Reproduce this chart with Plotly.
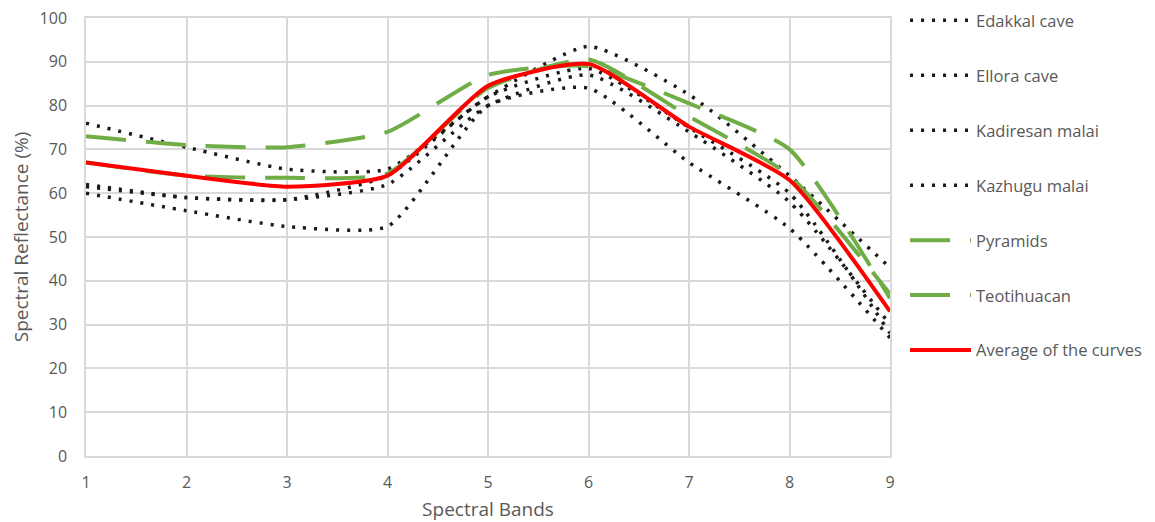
import plotly.graph_objects as go

bands = [1, 2, 3, 4, 5, 6, 7, 8, 9]
x_ticks = [1, 2, 3, 4, 5, 6, 7, 8, 9]
y_ticks = [0, 10, 20, 30, 40, 50, 60, 70, 80, 90, 100]

edakkal = [76, 70.5, 65.5, 65.5, 82, 93.5, 82.5, 64, 43]
ellora = [62, 59, 58.5, 64, 82, 88.5, 75, 60, 28]
kadiresan = [61.5, 59, 58.5, 62, 80, 87, 74, 58, 30]
kazhugu = [60, 56, 52.4, 52.4, 80, 84, 67, 52, 27]
pyramids = [73, 71, 70.5, 74, 87, 89, 80.5, 70, 36]
teotihuacan = [67, 64, 63.5, 64.5, 84, 90.5, 77.5, 64, 37]
average = [67, 64, 61.5, 64, 84.5, 89.5, 75.2, 63, 33]

names = ["Edakkal cave", "Ellora cave", "Kadiresan malai", "Kazhugu malai",
         "Pyramids", "Teotihuacan", "Average of the curves"]
series = [edakkal, ellora, kadiresan, kazhugu, pyramids, teotihuacan, average]

FONT = "Open Sans"
GRAY = "#595959"

styles = [
    dict(color="#1a1a1a", width=3.5, dash="3px,8px"),
    dict(color="#1a1a1a", width=3.5, dash="3px,8px"),
    dict(color="#1a1a1a", width=3.5, dash="3px,8px"),
    dict(color="#1a1a1a", width=3.5, dash="3px,8px"),
    dict(color="#70ad47", width=4, dash="40px,20px"),
    dict(color="#70ad47", width=4, dash="40px,20px"),
    dict(color="#ff0000", width=4, dash="solid"),
]

fig = go.Figure()
for i, (n, s, st) in enumerate(zip(names, series, styles)):
    fig.add_trace(go.Scatter(
        x=bands, y=s, name=n, mode="lines",
        line=dict(shape="spline", smoothing=0.55, **st),
        legendgroup=f"g{i}",
    ))

# page body has an 8px margin; figure sized to fill the rest of the window
fig.update_layout(
    width=1147, height=514,
    margin=dict(l=78, r=265, t=10, b=66, autoexpand=False),
    paper_bgcolor="white", plot_bgcolor="white",
    font=dict(family=FONT, size=16, color=GRAY),
    legend=dict(
        x=1.0187, y=1.034, xanchor="left", yanchor="top",
        traceorder="grouped", tracegroupgap=30.5, itemwidth=61,
        maxheight=700,
        font=dict(family=FONT, size=16.5, color=GRAY),
        bgcolor="rgba(0,0,0,0)",
    ),
    xaxis=dict(
        range=[1, 9], tickvals=x_ticks, ticktext=[str(v) for v in x_ticks],
        showgrid=True, gridcolor="#d9d9d9", gridwidth=1.5,
        showline=True, linecolor="#d9d9d9", linewidth=1.5, mirror=True,
        zeroline=False, ticks="", ticklabelstandoff=11, automargin=False,
        ticklabeloverflow="allow",
        title=dict(text="Spectral Bands", standoff=15,
                   font=dict(family=FONT, size=19, color=GRAY)),
        tickfont=dict(family=FONT, size=16, color=GRAY),
    ),
    yaxis=dict(
        range=[0, 100], tickvals=y_ticks,
        showgrid=True, gridcolor="#d9d9d9", gridwidth=1.5,
        showline=True, linecolor="#d9d9d9", linewidth=1.5, mirror=True,
        zeroline=False, ticks="", ticklabelstandoff=14, automargin=False,
        ticklabeloverflow="allow",
        title=dict(text="Spectral Reflectance (%)", standoff=12,
                   font=dict(family=FONT, size=19, color=GRAY)),
        tickfont=dict(family=FONT, size=16, color=GRAY),
    ),
)

fig.write_html("out.html")
